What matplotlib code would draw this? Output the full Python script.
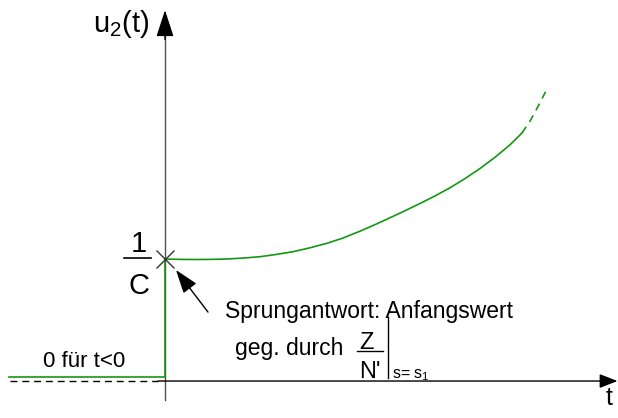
import numpy as np
import matplotlib.pyplot as plt

plt.rcParams['font.family'] = ['Liberation Sans', 'DejaVu Sans']
plt.rcParams['mathtext.fontset'] = 'custom'
plt.rcParams['mathtext.rm'] = 'Liberation Sans'
plt.rcParams['mathtext.it'] = 'Liberation Sans'

# Sprungantwort u2(t), normiert auf 1/C
t_fest = [0.0, 0.15, 0.3, 0.45, 0.62, 0.78, 0.95, 1.1, 1.28, 1.45, 1.62, 1.78,
          1.95, 2.1, 2.25, 2.4, 2.55, 2.7, 2.85, 3.0, 3.15, 3.3, 3.45, 3.57]
u_fest = [1.0, 0.997, 0.996, 0.997, 1.0, 1.008, 1.019, 1.036, 1.06, 1.092, 1.129, 1.172,
          1.228, 1.282, 1.338, 1.396, 1.455, 1.517, 1.584, 1.659, 1.742, 1.834, 1.936, 2.033]
# weiterer Verlauf (gestrichelt)
t_weiter = [3.57, 3.65, 3.73, 3.83]
u_weiter = [2.033, 2.13, 2.25, 2.41]
# Bereich t<0
t_neg = [-1.56, 0.0]
u_neg = [0.03, 0.03]
anfangswert = 1.0

gruen = '#159615'

fig = plt.figure(figsize=(6.18, 4.18), dpi=100)
ax = fig.add_axes([0, 0, 1, 1])
ax.set_xlim(-1.65, 4.53)
ax.set_ylim(-0.303, 3.123)
ax.axis('off')

# Achsen mit Pfeilen
ax.annotate('', xy=(4.525, 0), xytext=(-0.07, 0),
            arrowprops=dict(arrowstyle='-|>,head_length=1.1,head_width=0.43',
                            mutation_scale=10, lw=1.0, color='black',
                            shrinkA=0, shrinkB=0))
ax.plot([0, 0], [-0.156, 2.9], color='#505050', lw=1.0)
ax.annotate('', xy=(0, 3.04), xytext=(0, 2.8),
            arrowprops=dict(arrowstyle='-|>,head_length=1.66,head_width=0.54',
                            mutation_scale=10, lw=1.0, color='black',
                            shrinkA=0, shrinkB=0))
ax.plot([-1.55, -0.07], [0, 0], color='black', lw=1.0, ls=(0, (5, 3.5)))

# Kurven
ax.plot(t_neg, u_neg, color=gruen, lw=1.2)
ax.plot([0, 0], [u_neg[-1], anfangswert], color=gruen, lw=1.2)
ax.plot(t_fest, u_fest, color=gruen, lw=1.2)
ax.plot(t_weiter, u_weiter, color=gruen, lw=1.2, ls=(0, (4.5, 3.5)))
ax.plot([0], [anfangswert], marker='x', ms=12.5, mew=1.0, color='#333333')

# Beschriftungen
ax.text(-0.435, 2.86, r'u$_\mathrm{2}$(t)', fontsize=21, ha='center', va='baseline')
ax.text(4.44, -0.197, 't', fontsize=18, ha='center', va='baseline')
ax.text(-0.265, 1.057, '1', fontsize=21, ha='center', va='baseline')
ax.text(-0.265, 0.713, 'C', fontsize=21, ha='center', va='baseline')
ax.plot([-0.41, -0.14], [1.008, 1.008], color='black', lw=1.2)
ax.text(-1.22, 0.117, '0 für t<0', fontsize=16, ha='left', va='baseline')

ax.annotate('', xy=(0.11, 0.91), xytext=(0.43, 0.565),
            arrowprops=dict(arrowstyle='-|>,head_length=1.45,head_width=0.5',
                            mutation_scale=10, lw=1.0, color='black',
                            shrinkA=0, shrinkB=0))
ax.text(0.60, 0.514, 'Sprungantwort: Anfangswert', fontsize=16.5, ha='left', va='baseline')
ax.text(0.70, 0.213, 'geg. durch', fontsize=16.5, ha='left', va='baseline')
ax.text(2.02, 0.262, 'Z', fontsize=17, ha='center', va='baseline')
ax.plot([1.92, 2.18], [0.246, 0.246], color='black', lw=1.0)
ax.text(2.05, 0.025, "N'", fontsize=17, ha='center', va='baseline')
ax.plot([2.233, 2.233], [0.527, 0.025], color='black', lw=1.0)
ax.text(2.27, 0.025, r's= s$_\mathrm{1}$', fontsize=11.5, ha='left', va='baseline')

fig.savefig('out.png', dpi=100)
